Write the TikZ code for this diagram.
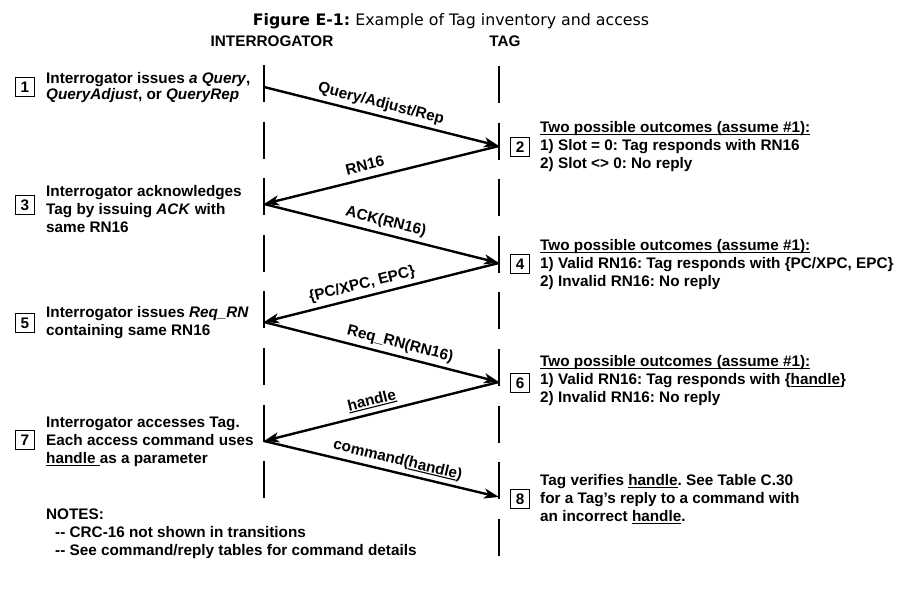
\documentclass[tikz,border=0pt]{standalone}
\usepackage{fontspec}
\setmainfont{Liberation Sans}
\newfontfamily\titlefont{DejaVu Sans}
\usetikzlibrary{arrows.meta,positioning}
\frenchspacing
\newcommand{\undl}[1]{\setbox0\hbox{#1}\rlap{\rule[-2.4pt]{\wd0}{1.1pt}}\box0}
\tikzstyle{stepbox} = [draw, line width=1.6pt, minimum size=19pt, inner sep=0pt]
\tikzstyle{lifeline} = [line width=2.8pt, dash pattern=on 37pt off 19.6pt]
\tikzstyle{msg} = [line width=2.4pt, -{Stealth[length=15pt,width=10pt,inset=4pt]}]
\tikzstyle{lbl} = [above, sloped, inner sep=3.8pt, text depth=3.2pt]
\tikzstyle{note} = [anchor=west, align=left, inner sep=0pt]

\begin{document}
\begin{tikzpicture}[x=1pt, y=-1pt, every node/.style={font=\bfseries\fontsize{15.3}{18}\selectfont}]
\useasboundingbox (0,0) rectangle (907,612);
\node (title) [anchor=base, font=\titlefont\fontsize{15.8}{19}\selectfont] at (451,26) {\textbf{Figure E-1:} Example of Tag inventory and access};
\node (hint) [anchor=base] at (272,47) {INTERROGATOR};
\node (htag) [anchor=base] at (505,47) {TAG};
% lifelines
\coordinate (itop) at (264,65);
\coordinate (ibot) at (264,498.5);
\coordinate (ttop) at (499,66);
\coordinate (tbot) at (499,556);
\draw[lifeline] (itop)--(ibot);
\draw[lifeline] (ttop)--(tbot);
% message points
\coordinate (i1) at (264,87);
\coordinate (t2) at (499,146);
\coordinate (i3) at (264,204);
\coordinate (t4) at (499,263);
\coordinate (i5) at (264,322);
\coordinate (t6) at (499,382);
\coordinate (i7) at (264,441);
\coordinate (t8) at (499,497);
\draw[msg] (i1)--(t2) node (m1) [lbl, pos=0.485] {Query/Adjust/Rep};
\draw[msg] (t2)--(i3) node (m2) [lbl, pos=0.557] {RN16};
\draw[msg] (i3)--(t4) node (m3) [lbl, pos=0.506] {ACK(RN16)};
\draw[msg] (t4)--(i5) node (m4) [lbl, pos=0.57] {\{PC/XPC, EPC\}};
\draw[msg] (i5)--(t6) node (m5) [lbl, pos=0.566] {Req\_RN(RN16)};
\draw[msg] (t6)--(i7) node (m6) [lbl, pos=0.528] {\undl{handle}};
\draw[msg] (i7)--(t8) node (m7) [lbl, pos=0.557] {command(\undl{handle})};
% interrogator side
\draw (25,87) node (s1) [stepbox] {1};
\draw (46,88) node (n1) [note] {Interrogator issues \textit{a Query},\\[-2pt]\textit{QueryAdjust}, or \textit{QueryRep}};
\draw (25,205) node (s3) [stepbox] {3};
\draw (46,209.5) node (n3) [note] {Interrogator acknowledges\\Tag by issuing \textit{ACK} with\\same RN16};
\draw (25,323) node (s5) [stepbox] {5};
\draw (46,323) node (n5) [note] {Interrogator issues \textit{Req\_RN}\\containing same RN16};
\draw (25,440) node (s7) [stepbox] {7};
\draw (46,442) node (n7) [note] {Interrogator accesses Tag.\\Each access command uses\\\undl{handle }as a parameter};
\draw (46,534) node (notes) [note] {NOTES:\\\hspace*{9pt}-{}- CRC-16 not shown in transitions\\\hspace*{9pt}-{}- See command/reply tables for command details};
% tag side
\draw (520,147) node (s2) [stepbox] {2};
\draw (540,146.5) node (n2) [note] {\undl{Two possible outcomes (assume \#1):}\\1) Slot = 0: Tag responds with RN16\\2) Slot <> 0: No reply};
\draw (520,264) node (s4) [stepbox] {4};
\draw (540,265) node (n4) [note] {\undl{Two possible outcomes (assume \#1):}\\1) Valid RN16: Tag responds with \{PC/XPC, EPC\}\\2) Invalid RN16: No reply};
\draw (520,383) node (s6) [stepbox] {6};
\draw (540,381) node (n6) [note] {\undl{Two possible outcomes (assume \#1):}\\1) Valid RN16: Tag responds with \{\undl{handle}\}\\2) Invalid RN16: No reply};
\draw (520,499) node (s8) [stepbox] {8};
\draw (540,499) node (n8) [note] {Tag verifies \undl{handle}. See Table C.30\\for a Tag’s reply to a command with\\an incorrect \undl{handle}.};
\end{tikzpicture}
\end{document}
